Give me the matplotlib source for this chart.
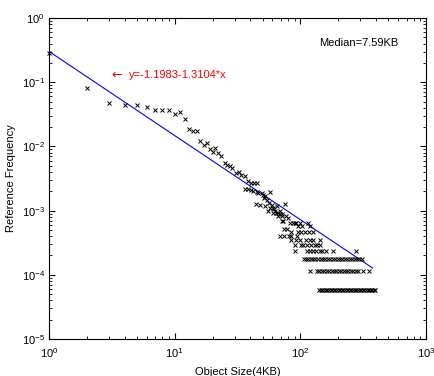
import matplotlib
matplotlib.use('Agg')
import numpy as np
import matplotlib.pyplot as plt

# total number of references, counts are turned into frequencies with it
total_refs = 17240

# first part of the curve, one point per size
head_sizes = [1, 2, 3, 4, 5, 6, 7, 8, 9, 10, 11, 12, 13, 14, 15, 16, 17, 18, 19, 20,
              21, 22, 23.4]
head_counts = [4914, 1379, 810, 759, 759, 707, 629, 629, 629, 552, 586, 466, 319, 295,
               302, 209, 181, 193, 155, 143, 160, 134, 122]

# middle part (sizes 25..150)
mid_sizes = [25, 26, 27.5, 28.5, 31, 32.5, 34, 36, 38.5, 40.5, 43, 45,
             36.6, 38.3, 40.8, 42.3, 44.9, 49.3, 46, 50, 52, 57,
             51, 54, 56, 59, 61, 65, 75, 44.5, 48, 52.5, 57.5, 61.5, 63, 66,
             55.5, 60.5, 64.5, 69, 68.8, 72, 76.7, 71, 73, 80, 83,
             88, 93, 99, 104, 116, 120, 90, 96,
             74, 78, 83.5, 96.5, 102, 109, 116.5, 127,
             69.5, 73.5, 80.5, 85, 93.5, 67, 71.5]
mid_counts = [94, 88, 84, 79, 66, 68, 62, 60, 49, 46, 47, 46,
              38, 37, 36, 35, 34, 32, 32, 30, 29, 34,
              27, 25, 23, 21, 19, 20, 22, 22, 21, 20, 19, 18, 17, 16,
              17, 16, 16, 17, 15, 15, 14, 14, 12, 13, 11,
              11, 11, 11, 10, 11, 10, 11, 10,
              9, 9, 8, 8, 8, 8, 8, 8,
              7, 7, 7, 7, 7, 14, 12]

# tail: sizes that were referenced only a few times
tail_c6 = [85, 99, 110, 127, 143, 92, 119]
tail_c5 = [90, 102, 105, 112, 122, 130, 135, 143]
tail_c4 = [90.5, 112, 119, 125, 134, 143, 150, 160, 182, 277]
tail_c3 = [106, 111, 116, 121, 127, 132, 138, 145, 151, 158, 165, 173, 181, 189,
           198, 207, 216, 226, 236, 247, 258, 270, 282, 295, 308]
tail_c2 = [120, 136, 142, 148, 155, 162, 169, 177, 185, 193, 202, 211, 221, 231,
           241, 252, 264, 276, 290, 317, 352]
tail_c1 = [141, 145, 150, 154, 159, 164, 169, 174, 179, 184, 190, 196, 202, 208,
           214, 220, 227, 234, 241, 248, 255, 263, 271, 279, 287, 296, 305, 314,
           323, 333, 343, 353, 364, 375, 386, 396]

# fitted line (log-log, natural log coefficients)
fit_a = -1.1983
fit_b = -1.3104
fit_max_size = 380

plt.rcParams['font.family'] = ['Liberation Sans', 'DejaVu Sans']
plt.rcParams['font.size'] = 8

sizes = list(head_sizes) + list(mid_sizes)
counts = list(head_counts) + list(mid_counts)
for c, row in [(6, tail_c6), (5, tail_c5), (4, tail_c4), (3, tail_c3), (2, tail_c2), (1, tail_c1)]:
    sizes += row
    counts += [c] * len(row)
sizes = np.array(sizes, dtype=float)
freq = np.array(counts, dtype=float) / total_refs

fig = plt.figure(figsize=(4.34, 3.76), dpi=100)
ax = fig.add_axes([0.1129, 0.0984, 0.8687, 0.8537])

ax.plot(sizes, freq, 'x', color='black', markersize=3.5, markeredgewidth=0.7,
        clip_on=False, zorder=3)

fit_x = np.unique(sizes[sizes <= fit_max_size])
fit_y = np.exp(fit_a + fit_b * np.log(fit_x))
ax.plot(fit_x, fit_y, color='blue', linewidth=0.8, zorder=2)

ax.set_xscale('log')
ax.set_yscale('log')
ax.set_xlim(1, 1000)
ax.set_ylim(1e-5, 1)

ax.tick_params(which='both', direction='in', top=True, right=True, labelsize=8)
ax.tick_params(axis='x', pad=5)
ax.tick_params(axis='y', pad=3)
ax.tick_params(which='major', length=4)
ax.tick_params(which='minor', length=2)
for s in ax.spines.values():
    s.set_linewidth(0.8)

ax.set_xlabel('Object Size(4KB)', fontsize=8, labelpad=5)
ax.set_ylabel('Reference Frequency', fontsize=8, labelpad=4)

ax.text(0.716, 0.922, 'Median=7.59KB', transform=ax.transAxes, fontsize=8,
        va='center', ha='left', color='black')
ax.text(0.165, 0.822, '\u2190', transform=ax.transAxes, fontsize=9,
        va='center', ha='left', color='red', family='DejaVu Sans')
ax.text(0.213, 0.822, 'y=-1.1983-1.3104*x', transform=ax.transAxes, fontsize=8,
        va='center', ha='left', color='red')

fig.savefig('out.png', dpi=100)
